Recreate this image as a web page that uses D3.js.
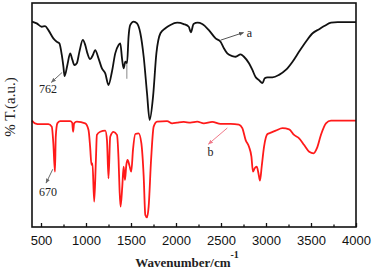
<!DOCTYPE html>
<html>
<head>
	<meta charset="utf-8">
	<title>FTIR</title>
	<script src="https://d3js.org/d3.v7.min.js"></script>
	<style>
		html, body {
			margin: 0;
			background: white;
			overflow: hidden;
		}
	</style>
</head>
<body>
	<svg id="svg"></svg>
	<script>
		// spectrum a (black), wavenumber / transmittance (a.u.)
		const waveA = [400, 452, 508, 545, 582, 637, 675, 704, 731, 749, 762, 793, 824, 849, 871, 898, 927, 965, 991, 1016,
			1046, 1077, 1102, 1139, 1177, 1214, 1250, 1288, 1325, 1362, 1381, 1400, 1418, 1437, 1456, 1473, 1492, 1529, 1567, 1604,
			1641, 1678, 1707, 1745, 1782, 1827, 1882, 1938, 2013, 2086, 2142, 2165, 2195, 2240, 2291, 2365, 2440, 2495, 2532, 2570,
			2626, 2663, 2718, 2755, 2811, 2849, 2886, 2922, 2960, 2986, 3016, 3072, 3145, 3220, 3295, 3368, 3443, 3518, 3591, 3647,
			3722, 3796, 4000];
		const transA = [91.7, 90.9, 89.4, 89.7, 87.9, 84.2, 82.7, 82.0, 76.8, 71.6, 67.4, 72.3, 77.5, 74.6, 72.3, 73.1, 78.3, 83.5, 81.3, 77.5,
			74.9, 76.8, 79.0, 75.3, 70.8, 68.6, 63.4, 69.3, 77.5, 81.3, 82.0, 75.3, 70.8, 73.8, 73.1, 85.0, 90.2, 91.7, 90.9, 86.5,
			76.0, 59.7, 47.8, 58.2, 77.5, 86.5, 88.7, 90.2, 91.2, 90.6, 89.4, 86.9, 90.6, 91.2, 90.6, 87.9, 84.2, 82.7, 79.8, 77.5,
			76.3, 76.0, 77.1, 76.0, 73.1, 70.1, 66.8, 65.6, 64.2, 66.4, 66.8, 66.8, 67.9, 70.1, 73.8, 78.3, 82.7, 86.5, 88.3, 89.7,
			91.2, 91.5, 91.5];

		// spectrum b (red)
		const waveB = [400, 433, 489, 582, 620, 637, 655, 664, 682, 712, 824, 846, 857, 868, 898, 991, 1028, 1046, 1061, 1072,
			1091, 1110, 1121, 1158, 1214, 1233, 1250, 1269, 1306, 1344, 1362, 1373, 1384, 1403, 1418, 1433, 1448, 1462, 1481, 1503,
			1522, 1548, 1585, 1615, 1641, 1659, 1678, 1696, 1723, 1752, 1790, 1901, 1957, 2013, 2086, 2161, 2236, 2309, 2403, 2495,
			2607, 2699, 2737, 2774, 2811, 2838, 2855, 2874, 2897, 2916, 2933, 2952, 2978, 3016, 3053, 3108, 3183, 3257, 3312, 3368,
			3424, 3480, 3529, 3566, 3610, 3666, 3722, 4000];
		const transB = [47.5, 46.3, 45.9, 45.9, 44.8, 37.4, 24.7, 40.3, 46.3, 47.3, 47.3, 46.6, 42.5, 46.3, 47.0, 46.3, 43.3, 35.8, 27.7, 28.4,
			11.3, 29.9, 41.1, 42.5, 43.0, 38.8, 21.7, 40.3, 42.5, 41.1, 29.9, 16.5, 9.1, 18.0, 26.9, 21.0, 27.7, 29.9, 27.7, 24.7,
			34.4, 41.5, 41.8, 37.4, 22.5, 5.4, 4.3, 9.1, 29.9, 44.8, 47.0, 47.3, 46.3, 46.6, 46.9, 46.6, 47.0, 46.3, 46.9, 46.0,
			46.0, 45.7, 44.1, 38.8, 35.8, 31.4, 24.7, 26.2, 26.9, 24.0, 20.7, 26.9, 35.8, 41.5, 42.1, 43.0, 44.1, 43.6, 41.1, 39.6,
			36.6, 33.6, 32.9, 35.2, 41.1, 46.3, 47.5, 47.5];

		const majorTicks = [500, 1000, 1500, 2000, 2500, 3000, 3500, 4000];
		const minorTicks = [750, 1250, 1750, 2250, 2750, 3250, 3750];

		// annotations: arrow from [w, t] to [w, t], label at [w, t]
		const notes = [
			{ text: "762", from: [735, 69.0], to: [615, 64.6], at: [578, 60.0], arrow: "#6b6b6b" },
			{ text: "670", from: [631, 25.8], to: [556, 19.6], at: [578, 14.0], arrow: "#6b6b6b" },
			{ text: "a", from: [2495, 83.4], to: [2750, 86.8], at: [2815, 85.0], arrow: "#555" },
			{ text: "b", from: [2570, 44.2], to: [2360, 37.0], at: [2384, 31.6], arrow: "#f07a8a" }
		];
		const marker1453 = { w: 1453, t0: 72.8, t1: 66.2 };

		const W = 373, H = 276;
		const margins = { top: 3, left: 32, right: 17, bottom: 49 };

		const svg = d3.select("#svg")
		.attr("width", W)
		.attr("height", H);

		const scaleX = d3.scaleLinear()
		.domain([400, 4000])
		.range([margins.left, W - margins.right]);

		const scaleY = d3.scaleLinear()
		.domain([0, 100])
		.range([H - margins.bottom, margins.top]);

		const line = d3.line()
		.curve(d3.curveMonotoneX)
		.x(d => scaleX(d[0]))
		.y(d => scaleY(d[1]));

		svg.append("defs").selectAll("marker")
		.data(notes)
		.enter()
		.append("marker")
		.attr("id", (d, i) => "arr" + i)
		.attr("viewBox", "0 0 10 10")
		.attr("refX", 9)
		.attr("refY", 5)
		.attr("markerWidth", 5)
		.attr("markerHeight", 5)
		.attr("orient", "auto")
		.append("path")
		.attr("d", "M0,1L10,5L0,9Z")
		.attr("fill", d => d.arrow);

		svg.append("path")
		.attr("fill", "none")
		.attr("stroke", "#ff1a1a")
		.attr("stroke-width", 1.8)
		.attr("stroke-linejoin", "round")
		.attr("d", line(d3.zip(waveB, transB)));

		svg.append("path")
		.attr("fill", "none")
		.attr("stroke", "#111")
		.attr("stroke-width", 1.8)
		.attr("stroke-linejoin", "round")
		.attr("d", line(d3.zip(waveA, transA)));

		svg.append("line")
		.attr("x1", scaleX(marker1453.w))
		.attr("x2", scaleX(marker1453.w))
		.attr("y1", scaleY(marker1453.t0))
		.attr("y2", scaleY(marker1453.t1))
		.attr("stroke", "#b0b0b0")
		.attr("stroke-width", 1.5);

		const g = svg.append("g");
		g.selectAll("line")
		.data(notes)
		.enter()
		.append("line")
		.attr("x1", d => scaleX(d.from[0]))
		.attr("y1", d => scaleY(d.from[1]))
		.attr("x2", d => scaleX(d.to[0]))
		.attr("y2", d => scaleY(d.to[1]))
		.attr("stroke", d => d.arrow)
		.attr("stroke-width", 1)
		.attr("marker-end", (d, i) => `url(#arr${i})`);

		g.selectAll("text")
		.data(notes)
		.enter()
		.append("text")
		.attr("x", d => scaleX(d.at[0]))
		.attr("y", d => scaleY(d.at[1]))
		.attr("text-anchor", "middle")
		.attr("font-family", "Liberation Serif, serif")
		.attr("font-size", 12)
		.attr("fill", "#222")
		.text(d => d.text);

		// bottom axis, ticks inside
		const axis = svg.append("g")
		.attr("transform", `translate(0, ${H - margins.bottom})`)
		.call(d3.axisBottom(scaleX).tickValues(majorTicks).tickSize(-4).tickPadding(9).tickFormat(d3.format("d")));
		axis.select(".domain").remove();
		axis.selectAll("line").attr("stroke", "#111").attr("stroke-width", 1.3);
		axis.selectAll("text")
		.attr("font-family", "Liberation Sans, Arial, sans-serif")
		.attr("font-size", 13)
		.attr("fill", "#111");

		svg.append("g")
		.attr("transform", `translate(0, ${H - margins.bottom})`)
		.call(d3.axisBottom(scaleX).tickValues(minorTicks).tickSize(-2.5).tickFormat(""))
		.call(a => a.select(".domain").remove())
		.selectAll("line").attr("stroke", "#111").attr("stroke-width", 1.3);

		svg.append("rect")
		.attr("x", margins.left)
		.attr("y", margins.top)
		.attr("width", W - margins.left - margins.right)
		.attr("height", H - margins.top - margins.bottom)
		.attr("fill", "none")
		.attr("stroke", "#111")
		.attr("stroke-width", 1.6);

		svg.append("text")
		.attr("transform", `translate(15, ${(margins.top + H - margins.bottom) / 2 - 8}) rotate(-90)`)
		.attr("text-anchor", "middle")
		.attr("font-family", "Liberation Serif, serif")
		.attr("font-size", 15)
		.attr("fill", "#222")
		.text("% T.(a.u.)");

		const xl = svg.append("text")
		.attr("x", 187)
		.attr("y", 267)
		.attr("text-anchor", "middle")
		.attr("font-family", "Liberation Serif, serif")
		.attr("font-weight", "bold")
		.attr("font-size", 13)
		.attr("fill", "#222");
		xl.append("tspan").text("Wavenumber/cm");
		xl.append("tspan").attr("dy", -9).attr("font-size", 10).text("-1");
	</script>
</body>
</html>
